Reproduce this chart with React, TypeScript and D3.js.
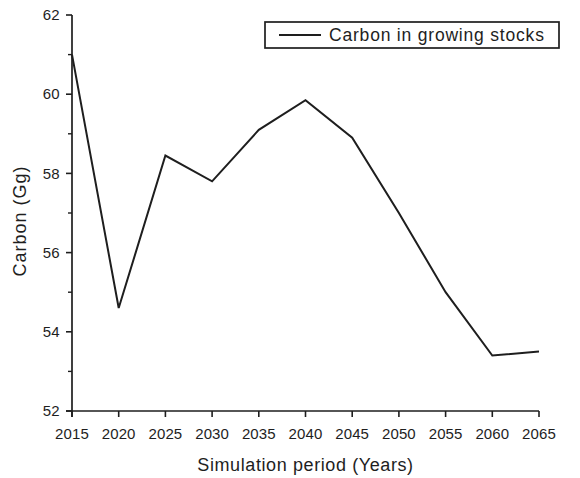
import React from "react";
import * as d3 from "d3";

const years = [2015, 2020, 2025, 2030, 2035, 2040, 2045, 2050, 2055, 2060, 2065];
const carbon = [61.0, 54.6, 58.45, 57.8, 59.1, 59.85, 58.9, 57.0, 55.0, 53.4, 53.5];
const yTicks = [52, 54, 56, 58, 60, 62];
const yMinorTicks = [53, 55, 57, 59, 61];
const seriesName = "Carbon in growing stocks";

const W = 580;
const H = 478;
const margin = { left: 72, right: 41, top: 15, bottom: 67 };
const font = "'Liberation Sans', Arial, sans-serif";
const ink = "#1e1e1e";

export default function App() {
  const x = d3.scaleLinear().domain([2015, 2065]).range([margin.left, W - margin.right]);
  const y = d3.scaleLinear().domain([52, 62]).range([H - margin.bottom, margin.top]);
  const line = d3
    .line<number>()
    .x((_, i) => x(years[i]))
    .y((d) => y(d));

  const x0 = x(2015);
  const y0 = y(52);

  return (
    <svg
      width={W}
      height={H}
      style={{ position: "absolute", left: 0, top: 0, background: "#fff" }}
      fontFamily={font}
    >
      {/* y axis */}
      <line x1={x0} x2={x0} y1={y(62)} y2={y0 + 6} stroke={ink} strokeWidth={1.7} />
      {yTicks.map((t) => (
        <g key={t}>
          <line x1={x0 - 6} x2={x0} y1={y(t)} y2={y(t)} stroke={ink} strokeWidth={1.6} />
          <text x={x0 - 12} y={y(t)} dy="0.35em" textAnchor="end" fontSize={15} letterSpacing={0.3} fill={ink}>
            {t}
          </text>
        </g>
      ))}
      {yMinorTicks.map((t) => (
        <line key={t} x1={x0 - 4} x2={x0} y1={y(t)} y2={y(t)} stroke={ink} strokeWidth={1.4} />
      ))}

      {/* x axis */}
      <line x1={x0 - 6} x2={x(2065)} y1={y0} y2={y0} stroke={ink} strokeWidth={1.7} />
      {years.map((t) => (
        <g key={t}>
          <line x1={x(t)} x2={x(t)} y1={y0} y2={y0 + 6} stroke={ink} strokeWidth={1.6} />
          <text x={x(t)} y={y0 + 28} textAnchor="middle" fontSize={15} letterSpacing={0.1} fill={ink}>
            {t}
          </text>
        </g>
      ))}

      {/* series */}
      <path d={line(carbon) ?? ""} fill="none" stroke={ink} strokeWidth={2} strokeLinejoin="miter" />

      {/* axis titles */}
      <text
        transform={`translate(26, ${(y(62) + y0) / 2 + 8}) rotate(-90)`}
        textAnchor="middle"
        fontSize={18}
        letterSpacing={1}
        fill={ink}
      >
        Carbon (Gg)
      </text>
      <text
        x={(x0 + x(2065)) / 2}
        y={H - 7}
        textAnchor="middle"
        fontSize={18}
        letterSpacing={0.6}
        fill={ink}
      >
        Simulation period (Years)
      </text>

      {/* legend */}
      <g>
        <rect x={265} y={22} width={294} height={26} fill="#fff" stroke={ink} strokeWidth={1.7} />
        <line x1={279} x2={321} y1={35} y2={35} stroke={ink} strokeWidth={2} />
        <text x={329} y={35} dy="0.35em" fontSize={17.5} letterSpacing={0.8} fill={ink}>
          {seriesName}
        </text>
      </g>
    </svg>
  );
}
